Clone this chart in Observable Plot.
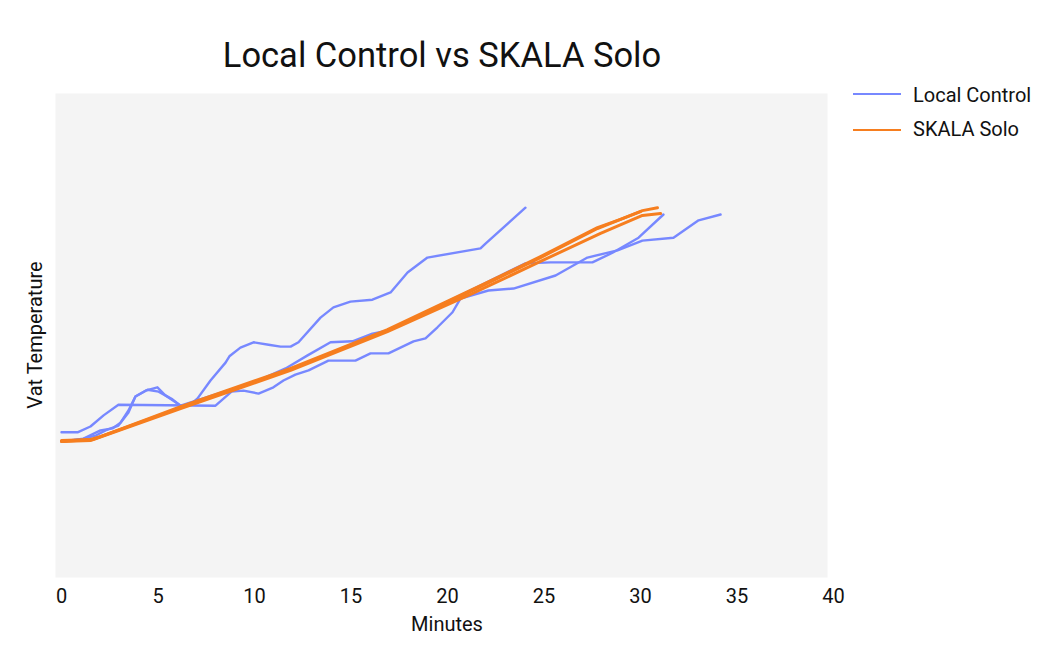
<!DOCTYPE html>
<html>
<head>
<meta charset="utf-8">
<script src="https://cdn.jsdelivr.net/npm/d3@7"></script>
<script src="https://cdn.jsdelivr.net/npm/@observablehq/plot@0.6"></script>
<style>
  body { margin: 0; background: #fff; font-family: Roboto, sans-serif; }
  #wrap { position: relative; width: 1049px; height: 661px; overflow: hidden; }
  #chart { position: absolute; left: 0; top: 0; }
  .t { position: absolute; white-space: nowrap; line-height: 1; color: #111; font-family: Roboto, sans-serif; }
  .sw { position: absolute; width: 48px; }
</style>
</head>
<body>
<div id="wrap">
  <div id="chart"></div>
  <div class="t" style="font-size:34.5px; left:442px; top:38px; transform:translateX(-50%);">Local Control vs SKALA Solo</div>
  <div class="t" style="font-size:20px; left:447px; top:614px; transform:translateX(-50%);">Minutes</div>
  <div class="t" style="font-size:20px; left:35px; top:335px; transform:translate(-50%,-50%) rotate(-90deg);">Vat Temperature</div>
  <div class="sw" style="left:853px; top:93px; border-top:2.5px solid #7788ff;"></div>
  <div class="t" style="font-size:20px; left:913px; top:85px;">Local Control</div>
  <div class="sw" style="left:853px; top:129px; border-top:2.5px solid #f67e1f;"></div>
  <div class="t" style="font-size:20px; left:913px; top:119px;">SKALA Solo</div>
</div>
<script>
// Tick labels (minutes)
const xTicks = [0, 5, 10, 15, 20, 25, 30, 35, 40];

// Local Control runs (minutes, vat temperature in relative units)
const lcA_min  = [0, 1.14, 2.02, 2.64, 3.06, 3.47, 3.83, 4.46, 5.03, 5.75, 6.17, 6.68, 7.05, 7.72, 8.50, 8.70, 9.27, 9.95, 10.73, 11.35, 11.87, 12.28, 13.42, 14.09, 14.97, 16.11, 17.05, 17.93, 18.96, 21.71, 21.97, 24.04];
const lcA_temp = [28.1, 28.7, 30.4, 30.8, 32.0, 34.5, 37.4, 38.8, 38.4, 36.8, 35.5, 35.7, 37.0, 40.7, 44.4, 45.7, 47.5, 48.6, 48.1, 47.7, 47.7, 48.6, 53.7, 55.8, 57.0, 57.4, 58.9, 63.0, 66.1, 68.0, 69.0, 76.4];

const lcB_min  = [0, 0.83, 1.50, 2.18, 2.95, 7.98, 8.81, 9.43, 10.21, 10.98, 11.50, 12.12, 12.80, 13.83, 15.23, 16.01, 16.94, 18.24, 18.86, 19.48, 20.26, 20.67, 22.12, 23.42, 25.60, 27.25, 28.81, 30.10, 31.71, 33.01, 34.15];
const lcB_temp = [30.0, 30.0, 31.2, 33.5, 35.7, 35.5, 38.4, 38.6, 38.0, 39.3, 40.7, 41.9, 42.8, 44.8, 44.8, 46.3, 46.3, 48.8, 49.4, 51.7, 54.8, 57.6, 59.3, 59.7, 62.4, 66.1, 67.6, 69.6, 70.2, 73.8, 75.0];

const lcC_min  = [0, 0.98, 1.76, 2.28, 2.95, 3.47, 3.83, 4.35, 4.97, 5.39, 5.91, 6.17, 8.76, 10.31, 11.61, 12.75, 13.94, 15.08, 16.11, 16.89, 18.60, 20.67, 22.75, 24.04, 25.34, 27.51, 28.55, 29.90, 31.19];
const lcC_temp = [28.1, 28.5, 29.3, 30.4, 31.4, 34.1, 37.4, 38.6, 39.3, 37.6, 36.2, 35.5, 38.8, 40.9, 43.2, 45.9, 48.6, 48.8, 50.4, 51.0, 54.3, 58.3, 62.4, 64.9, 65.1, 65.1, 67.1, 70.2, 75.0];

// SKALA Solo runs
const skA_min  = [0, 1.50, 2.02, 6.17, 11.87, 16.89, 18.60, 21.71, 24.82, 27.77, 30.10, 30.88];
const skA_temp = [28.1, 28.5, 29.1, 35.1, 43.0, 51.0, 54.1, 60.1, 66.1, 72.1, 75.8, 76.4];

const skB_min  = [0, 1.61, 6.17, 11.87, 16.89, 21.71, 24.82, 27.77, 28.96, 30.00];
const skB_temp = [28.3, 28.5, 35.3, 43.2, 51.2, 60.3, 66.3, 72.3, 74.0, 75.6];

const skC_min  = [0, 1.50, 6.17, 11.87, 16.89, 21.19, 24.82, 27.93, 30.10, 31.04];
const skC_temp = [28.1, 28.3, 34.9, 42.8, 50.8, 58.5, 65.3, 71.1, 74.8, 75.2];

function rows(run, mins, temps) {
  return mins.map((m, i) => ({run, minutes: m, temp: temps[i]}));
}
const localControl = [
  ...rows("LC-A", lcA_min, lcA_temp),
  ...rows("LC-B", lcB_min, lcB_temp),
  ...rows("LC-C", lcC_min, lcC_temp)
];
const skalaSolo = [
  ...rows("SK-A", skA_min, skA_temp),
  ...rows("SK-B", skB_min, skB_temp),
  ...rows("SK-C", skC_min, skC_temp)
];

const chart = Plot.plot({
  width: 1049,
  height: 661,
  marginTop: 93,
  marginBottom: 84,
  marginLeft: 61,
  marginRight: 216,
  style: {fontFamily: "Roboto, sans-serif", fontSize: "20px", color: "#111", background: "transparent"},
  x: {domain: [0, 40], ticks: xTicks, tickSize: 0, tickPadding: 11, label: null, tickFormat: d => String(d)},
  y: {domain: [0, 100], axis: null},
  marks: [
    Plot.frame({fill: "#f4f4f4", stroke: "none", insetLeft: -6, insetRight: 6}),
    Plot.line(localControl, {x: "minutes", y: "temp", z: "run", stroke: "#7788ff", strokeWidth: 2.4}),
    Plot.line(skalaSolo, {x: "minutes", y: "temp", z: "run", stroke: "#f67e1f", strokeWidth: 3})
  ]
});
document.getElementById("chart").appendChild(chart);
</script>
</body>
</html>
